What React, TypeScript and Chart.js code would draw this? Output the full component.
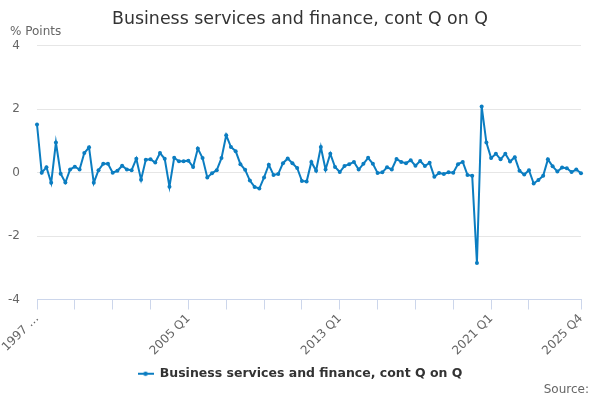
import { useEffect, useRef } from "react";
import Chart from "chart.js/auto";

const years = [1997, 1998, 1999, 2000, 2001, 2002, 2003, 2004, 2005, 2006, 2007, 2008, 2009, 2010, 2011, 2012, 2013, 2014, 2015, 2016, 2017, 2018, 2019, 2020, 2021, 2022, 2023, 2024, 2025];
const quarters = years.flatMap((y) => [`${y} Q1`, `${y} Q2`, `${y} Q3`, `${y} Q4`]);

// contribution, % points
const contQonQ = [
  1.52, 0.0, 0.17, -0.32, 0.95, -0.03, -0.31, 0.1,
  0.19, 0.1, 0.62, 0.8, -0.32, 0.08, 0.28, 0.28,
  0.0, 0.06, 0.22, 0.1, 0.08, 0.44, -0.22, 0.41,
  0.42, 0.32, 0.62, 0.44, -0.44, 0.47, 0.36, 0.36,
  0.38, 0.18, 0.76, 0.46, -0.15, -0.02, 0.08, 0.46,
  1.18, 0.81, 0.68, 0.27, 0.09, -0.25, -0.45, -0.5,
  -0.15, 0.25, -0.07, -0.04, 0.3, 0.45, 0.3, 0.15,
  -0.26, -0.28, 0.34, 0.06, 0.81, 0.1, 0.6, 0.18,
  0.02, 0.21, 0.27, 0.34, 0.1, 0.28, 0.47, 0.28,
  -0.01, 0.01, 0.17, 0.1, 0.43, 0.34, 0.3, 0.39,
  0.22, 0.37, 0.21, 0.31, -0.13, -0.01, -0.04, 0.01,
  0.0, 0.27, 0.34, -0.07, -0.1, -2.85, 2.09, 0.95,
  0.46, 0.6, 0.42, 0.6, 0.35, 0.49, 0.06, -0.06,
  0.08, -0.34, -0.23, -0.1, 0.42, 0.2, 0.04, 0.16,
  0.14, 0.02, 0.1, -0.02,
];

const tickIndices = [0, 8, 16, 24, 32, 40, 48, 56, 64, 72, 80, 88, 96, 104, 115];
const labelIndices = [0, 32, 64, 96, 115];
const yTicks = [-4, -2, 0, 2, 4];

const LINE = "#0b7dc1";
const FONT = "'DejaVu Sans', sans-serif";

const makeLegendIcon = () => {
  const c = document.createElement("canvas");
  c.width = 16;
  c.height = 6;
  const g = c.getContext("2d");
  if (g) {
    g.strokeStyle = LINE;
    g.lineWidth = 2;
    g.beginPath();
    g.moveTo(0, 3);
    g.lineTo(16, 3);
    g.stroke();
    g.fillStyle = LINE;
    g.beginPath();
    g.arc(8, 3, 2.2, 0, Math.PI * 2);
    g.fill();
  }
  return c;
};

const textPlugin = {
  id: "extraTexts",
  afterDraw(chart: Chart) {
    const { ctx } = chart;
    ctx.save();
    ctx.fillStyle = "#666666";
    ctx.font = `12px ${FONT}`;
    ctx.textBaseline = "middle";
    ctx.textAlign = "left";
    ctx.fillText("% Points", 10, 32);
    ctx.textAlign = "right";
    ctx.fillText("Source:", 589, 390);
    ctx.restore();
  },
};

const BusinessServicesChart = () => {
  const chartRef = useRef<HTMLCanvasElement | null>(null);

  useEffect(() => {
    if (!chartRef.current) return;
    const ctx = chartRef.current.getContext("2d");
    if (!ctx) return;

    const icon = makeLegendIcon();

    const chartInstance = new Chart(ctx, {
      type: "line",
      data: {
        labels: quarters,
        datasets: [
          {
            label: "Business services and finance, cont Q on Q",
            data: contQonQ,
            borderColor: LINE,
            backgroundColor: LINE,
            borderWidth: 2,
            pointRadius: 2,
            pointBorderWidth: 0,
            pointBackgroundColor: LINE,
            tension: 0,
          },
        ],
      },
      options: {
        responsive: false,
        animation: false,
        layout: { padding: { left: 0, right: 0, top: 0, bottom: 10 } },
        plugins: {
          title: {
            display: true,
            text: "Business services and finance, cont Q on Q",
            color: "#333333",
            font: { family: FONT, size: 17.4, weight: "normal" },
            padding: { top: 9, bottom: 16 },
          },
          legend: {
            position: "bottom",
            labels: {
              color: "#333333",
              font: { family: FONT, size: 12.5, weight: "bold" },
              usePointStyle: true,
              pointStyleWidth: 16,
              padding: 10,
              generateLabels: (chart: Chart) =>
                Chart.defaults.plugins.legend.labels.generateLabels(chart).map((item) => ({
                  ...item,
                  pointStyle: icon,
                })),
            },
          },
          tooltip: { enabled: false },
        },
        scales: {
          x: {
            type: "category",
            afterBuildTicks: (scale: any) => {
              scale.ticks = tickIndices.map((v) => ({ value: v }));
            },
            afterFit: (scale: any) => {
              scale.height = 58;
              scale.paddingLeft = 0;
              scale.paddingRight = 19;
            },
            grid: {
              display: true,
              drawOnChartArea: false,
              drawTicks: true,
              tickLength: 10,
              color: "#ccd6eb",
            },
            border: { display: true, color: "#ccd6eb" },
            ticks: {
              autoSkip: false,
              maxRotation: 45,
              minRotation: 45,
              color: "#666666",
              font: { family: FONT, size: 12 },
              padding: 2,
              callback: (value: any) => {
                const i = Number(value);
                if (!labelIndices.includes(i)) return "";
                return i === 0 ? "1997 …" : quarters[i];
              },
            },
          },
          y: {
            min: -4,
            max: 4,
            afterBuildTicks: (scale: any) => {
              scale.ticks = yTicks.map((v) => ({ value: v }));
            },
            afterFit: (scale: any) => {
              scale.width = 37;
            },
            grid: { color: "#e6e6e6", drawTicks: false },
            border: { display: false },
            ticks: {
              color: "#666666",
              font: { family: FONT, size: 12 },
              padding: 17,
            },
          },
        },
      },
      plugins: [textPlugin],
    });

    return () => {
      chartInstance.destroy();
    };
  }, []);

  return (
    <div style={{ position: "absolute", left: 0, top: 0, width: 600, height: 400 }}>
      <canvas ref={chartRef} width={600} height={400}></canvas>
    </div>
  );
};

export default function App() {
  return <BusinessServicesChart />;
}
